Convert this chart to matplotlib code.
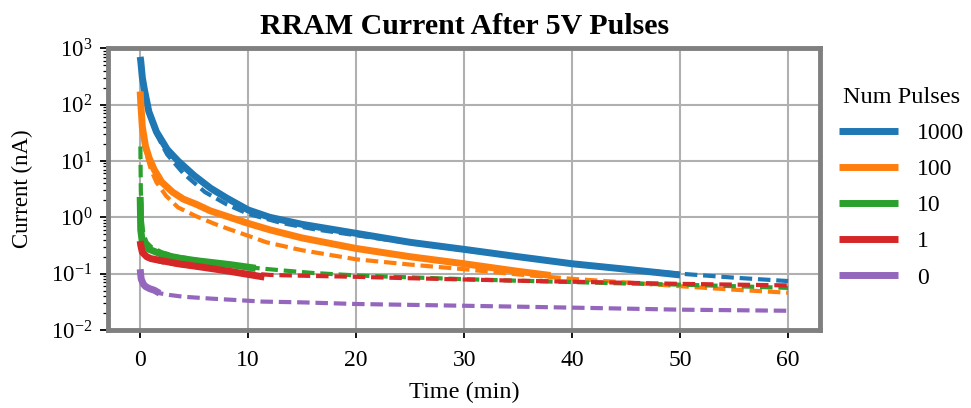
"""RRAM current decay after 5V pulses: measured traces and fits."""
import matplotlib
matplotlib.use("Agg")
import matplotlib.pyplot as plt

plt.rcParams["font.family"] = ["Liberation Serif", "DejaVu Serif"]
plt.rcParams["mathtext.fontset"] = "stix"

# legend labels (number of pulses) and colours
labels = ["1000", "100", "10", "1", "0"]
colors = ["#1f77b4", "#ff7f0e", "#2ca02c", "#d62728", "#9467bd"]

# measured traces (solid)
t_1000 = [0, 0.05, 0.2, 0.4, 0.8, 1.5, 2.5, 3.5, 5, 6.5, 8, 10, 12, 15, 20, 25, 30, 35, 40, 45, 50]
i_1000 = [700, 600, 300, 180, 75, 33, 16, 10, 5.5, 3.3, 2.2, 1.35, 1.0, 0.75, 0.52, 0.36, 0.27, 0.2, 0.15, 0.12, 0.095]
t_100 = [0, 0.05, 0.2, 0.5, 0.85, 1.3, 2, 3, 4, 5.2, 6.5, 8.3, 10, 12, 15, 20, 25, 30, 35, 38]
i_100 = [170, 110, 40, 18, 11, 7, 4.2, 2.8, 2.1, 1.7, 1.3, 1.0, 0.78, 0.6, 0.43, 0.28, 0.2, 0.15, 0.11, 0.093]
t_10 = [0, 0.05, 0.2, 0.4, 0.84, 2, 3.5, 5.2, 8.3, 10.7]
i_10 = [2.3, 0.6, 0.36, 0.31, 0.27, 0.22, 0.19, 0.17, 0.145, 0.125]
t_1 = [0, 0.05, 0.2, 0.6, 1, 2, 3.5, 5.2, 7, 8.3, 10, 11.5]
i_1 = [0.38, 0.32, 0.24, 0.2, 0.185, 0.17, 0.15, 0.135, 0.12, 0.11, 0.097, 0.087]
t_0 = [0, 0.05, 0.1, 0.3, 0.5, 0.9, 1.3, 1.8]
i_0 = [0.12, 0.095, 0.08, 0.065, 0.059, 0.054, 0.051, 0.045]

# fitted curves (dashed)
tf_1000 = [0.05, 0.3, 0.8, 1.5, 2.5, 4, 6, 8, 10, 13, 16, 20, 25, 30, 35, 40, 45, 50, 55, 60]
if_1000 = [600, 200, 70, 30, 13, 6, 2.8, 1.7, 1.15, 0.8, 0.62, 0.48, 0.35, 0.26, 0.2, 0.155, 0.12, 0.1, 0.085, 0.074]
tf_100 = [0.05, 0.2, 0.5, 1, 1.5, 2.4, 3.5, 5.2, 7, 8.3, 10, 11.7, 15, 20, 25, 30, 35, 40, 45, 50, 55, 60]
if_100 = [110, 40, 15, 7, 4.2, 2.4, 1.5, 1.04, 0.75, 0.61, 0.47, 0.36, 0.26, 0.18, 0.145, 0.12, 0.097, 0.081, 0.07, 0.06, 0.052, 0.046]
tf_10 = [0.02, 0.06, 0.15, 0.3, 0.6, 1, 2, 3.5, 5, 7, 10, 13, 16, 20, 25, 30, 35, 40, 45, 50, 55, 60]
if_10 = [18, 3, 0.9, 0.5, 0.36, 0.3, 0.24, 0.2, 0.18, 0.155, 0.13, 0.115, 0.103, 0.093, 0.086, 0.08, 0.075, 0.071, 0.067, 0.064, 0.06, 0.056]
tf_1 = [0.05, 0.3, 1, 2, 4, 6, 8, 10, 12, 15, 20, 25, 30, 35, 40, 45, 50, 55, 60]
if_1 = [0.3, 0.22, 0.18, 0.16, 0.14, 0.125, 0.112, 0.102, 0.095, 0.092, 0.088, 0.083, 0.079, 0.075, 0.072, 0.069, 0.066, 0.064, 0.062]
tf_0 = [0.05, 0.3, 1, 1.8, 2.7, 4, 6.7, 9, 11.3, 15, 20, 25, 30, 35, 40, 45, 50, 55, 60]
if_0 = [0.09, 0.065, 0.052, 0.045, 0.042, 0.039, 0.036, 0.034, 0.032, 0.031, 0.029, 0.028, 0.027, 0.026, 0.025, 0.024, 0.023, 0.0225, 0.022]

measured = [(t_1000, i_1000), (t_100, i_100), (t_10, i_10), (t_1, i_1), (t_0, i_0)]
fits = [(tf_1000, if_1000), (tf_100, if_100), (tf_10, if_10), (tf_1, if_1), (tf_0, if_0)]

fig = plt.figure(figsize=(9.71, 4.08), dpi=100)
ax = fig.add_axes([0.111, 0.191, 0.734, 0.691])

for lab, col, (t, i), (tf, fi) in zip(labels, colors, measured, fits):
    ax.plot(t, i, color=col, lw=5, label=lab, solid_capstyle="butt")
    ax.plot(tf, fi, color=col, lw=3, ls=(0, (3, 1.4)))

ax.set_yscale("log")
ax.set_ylim(1e-2, 1e3)
ax.set_xlim(-3, 63)
ax.set_xticks([0, 10, 20, 30, 40, 50, 60])
ax.grid(True, which="major", color="#b0b0b0", lw=1.5)
ax.set_axisbelow(True)

for sp in ax.spines.values():
    sp.set_color("#808080")
    sp.set_linewidth(3.5)
ax.tick_params(which="major", length=6, width=1.3, color="black")
ax.tick_params(axis="x", labelsize=17, pad=8)
ax.tick_params(axis="y", labelsize=16.5, pad=5)
ax.tick_params(which="minor", length=3.5, width=0.9, color="black")

ax.set_title("RRAM Current After 5V Pulses", fontsize=21.5, fontweight="bold", pad=10)
ax.set_xlabel("Time (min)", fontsize=17.5, labelpad=8)
ax.set_ylabel("Current (nA)", fontsize=16.5, labelpad=13)

leg = ax.legend(title="Num Pulses", loc="upper left", bbox_to_anchor=(1.0, 0.93),
                frameon=False, fontsize=17, title_fontsize=17.5, handlelength=2.5,
                handletextpad=0.8, labelspacing=0.62, borderaxespad=0.4)

fig.savefig("out.png", dpi=100)
